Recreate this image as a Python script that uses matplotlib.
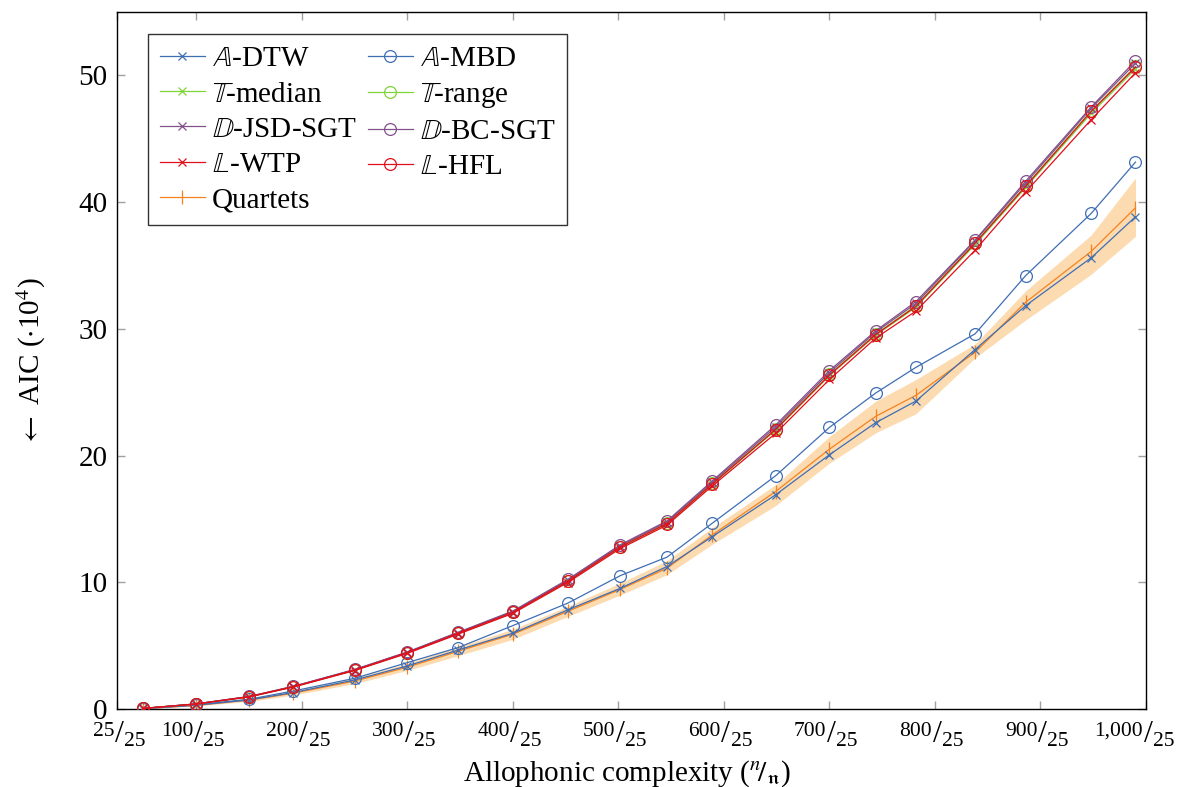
import matplotlib
matplotlib.use("Agg")
import matplotlib.pyplot as plt

plt.rcParams['font.family'] = ['Liberation Serif', 'DejaVu Serif']
plt.rcParams['mathtext.fontset'] = 'stix'

# allophone counts (x)
x = [50, 100, 150, 192, 250, 300, 348, 400, 452, 502, 546, 589, 649, 700, 744, 782, 838, 886, 948, 990]

a_dtw = [0.03, 0.30, 0.72, 1.30, 2.29, 3.40, 4.65, 5.98, 7.82, 9.53, 11.24, 13.60, 16.90, 20.06, 22.60, 24.30, 28.36, 31.83, 35.60, 38.84]
a_mbd = [0.04, 0.34, 0.77, 1.42, 2.42, 3.66, 4.84, 6.58, 8.35, 10.53, 11.98, 14.66, 18.40, 22.22, 24.94, 26.96, 29.60, 34.20, 39.10, 43.15]
t_median = [0.05, 0.40, 0.96, 1.75, 3.06, 4.43, 5.95, 7.60, 10.05, 12.76, 14.60, 17.72, 22.00, 26.30, 29.50, 31.70, 36.65, 41.15, 47.00, 50.50]
t_range = [0.05, 0.40, 0.97, 1.76, 3.08, 4.45, 5.98, 7.64, 10.10, 12.82, 14.66, 17.80, 22.10, 26.40, 29.60, 31.83, 36.80, 41.30, 47.20, 50.70]
d_jsd = [0.05, 0.40, 0.98, 1.78, 3.10, 4.48, 6.02, 7.69, 10.16, 12.90, 14.75, 17.90, 22.25, 26.55, 29.75, 32.00, 36.95, 41.50, 47.40, 50.95]
d_bc = [0.05, 0.41, 0.99, 1.79, 3.12, 4.50, 6.05, 7.73, 10.22, 12.97, 14.83, 18.00, 22.40, 26.70, 29.85, 32.15, 37.00, 41.65, 47.50, 51.15]
l_wtp = [0.05, 0.39, 0.95, 1.73, 3.03, 4.39, 5.90, 7.54, 9.98, 12.67, 14.50, 17.60, 21.75, 26.00, 29.28, 31.40, 36.20, 40.80, 46.50, 50.20]
l_hfl = [0.05, 0.40, 0.97, 1.76, 3.07, 4.44, 5.97, 7.62, 10.08, 12.80, 14.63, 17.76, 22.05, 26.35, 29.55, 31.78, 36.75, 41.25, 47.15, 50.65]
quartets = [0.03, 0.28, 0.70, 1.25, 2.20, 3.30, 4.55, 5.90, 7.70, 9.45, 11.10, 13.74, 17.16, 20.50, 23.10, 24.75, 28.15, 32.10, 36.10, 39.55]
quartets_lo = [0.02, 0.25, 0.60, 1.10, 2.00, 3.05, 4.20, 5.50, 7.30, 9.00, 10.60, 13.00, 16.05, 19.40, 21.80, 23.30, 27.70, 30.70, 34.30, 37.30]
quartets_hi = [0.05, 0.33, 0.80, 1.40, 2.45, 3.60, 4.90, 6.30, 8.10, 9.95, 11.70, 14.30, 17.70, 21.50, 24.30, 26.00, 28.80, 33.00, 37.40, 41.90]

xticks = [25, 100, 200, 300, 400, 500, 600, 700, 800, 900, 1000]
xtick_nums = ['25', '100', '200', '300', '400', '500', '600', '700', '800', '900', '1,000']
xtick_den = '25'
yticks = [0, 10, 20, 30, 40, 50]

BLUE = '#3f6eb3'
GREEN = '#7fd43a'
PURPLE = '#82508a'
RED = '#e0101c'
ORANGE = '#f5821f'
BAND = '#fddbb0'

fig = plt.figure(figsize=(11.86, 7.87), dpi=100)
ax = fig.add_axes([0.0987, 0.0991, 0.9663 - 0.0987, 0.9848 - 0.0991])

lw = 0.9
ax.fill_between(x, quartets_lo, quartets_hi, color=BAND, lw=0, zorder=1)
h_q, = ax.plot(x, quartets, color=ORANGE, lw=lw, marker='|', ms=10, mew=0.9, label='Quartets', zorder=2)
h_dtw, = ax.plot(x, a_dtw, color=BLUE, lw=lw, marker='x', ms=6, mew=0.9, label=r'$\mathbb{A}$-DTW', zorder=3)
h_mbd, = ax.plot(x, a_mbd, color=BLUE, lw=lw, marker='o', ms=8.5, mfc='none', mew=0.9, label=r'$\mathbb{A}$-MBD', zorder=3)
h_tm, = ax.plot(x, t_median, color=GREEN, lw=lw, marker='x', ms=6, mew=0.9, label=r'$\mathbb{T}$-median', zorder=4)
h_tr, = ax.plot(x, t_range, color=GREEN, lw=lw, marker='o', ms=8.5, mfc='none', mew=0.9, label=r'$\mathbb{T}$-range', zorder=4)
h_dj, = ax.plot(x, d_jsd, color=PURPLE, lw=lw, marker='x', ms=6, mew=0.9, label=r'$\mathbb{D}$-JSD-SGT', zorder=4)
h_db, = ax.plot(x, d_bc, color=PURPLE, lw=lw, marker='o', ms=8.5, mfc='none', mew=0.9, label=r'$\mathbb{D}$-BC-SGT', zorder=4)
h_lw, = ax.plot(x, l_wtp, color=RED, lw=lw, marker='x', ms=6, mew=0.9, label=r'$\mathbb{L}$-WTP', zorder=5)
h_lh, = ax.plot(x, l_hfl, color=RED, lw=lw, marker='o', ms=8.5, mfc='none', mew=0.9, label=r'$\mathbb{L}$-HFL', zorder=5)

ax.set_xlim(25, 1000)
ax.set_ylim(0, 55)
ax.set_xticks(xticks)
ax.set_xticklabels([''] * len(xticks))
ax.set_yticks(yticks)
ax.set_yticklabels([str(t) for t in yticks], fontsize=21)
ax.tick_params(direction='in', length=6, width=1, color='#a0a0a0', top=True, right=True)
ax.tick_params(axis='y', pad=7)
for s in ax.spines.values():
    s.set_linewidth(1.0)
    s.set_color('black')

# nicefrac-style x tick labels: raised numerator, slash, lowered denominator
trans = ax.get_xaxis_transform()
for t, num in zip(xticks, xtick_nums):
    ax.annotate(num, xy=(t, 0), xycoords=trans, xytext=(-3, -27), textcoords='offset pixels',
                ha='right', va='baseline', fontsize=15.5, annotation_clip=False)
    ax.annotate('/', xy=(t, 0), xycoords=trans, xytext=(2, -25), textcoords='offset pixels',
                ha='center', va='center', fontsize=23, annotation_clip=False)
    ax.annotate(xtick_den, xy=(t, 0), xycoords=trans, xytext=(7, -37), textcoords='offset pixels',
                ha='left', va='baseline', fontsize=15.5, annotation_clip=False)

fig.text(627 / 1186, 1 - 781 / 787, r'Allophonic complexity ($^{n}\!/_{\mathfrak{n}}$)',
         ha='center', va='baseline', fontsize=21)
fig.text(31 / 1186, 1 - 362 / 787, r'$\leftarrow$ AIC ($\cdot$10$^{4}$)',
         ha='center', va='center', rotation=90, fontsize=21)

handles = [h_dtw, h_tm, h_dj, h_lw, h_q, h_mbd, h_tr, h_db, h_lh]
leg = ax.legend(handles=handles, loc='upper left', ncol=2, fontsize=21, frameon=True, fancybox=False,
                edgecolor='#333333', framealpha=1, borderpad=0.4, labelspacing=0.3,
                handlelength=1.55, handletextpad=0.25, columnspacing=0.35,
                bbox_to_anchor=(0.030, 0.968), borderaxespad=0)
leg.get_frame().set_linewidth(1.0)

fig.savefig('out.png', dpi=100)
